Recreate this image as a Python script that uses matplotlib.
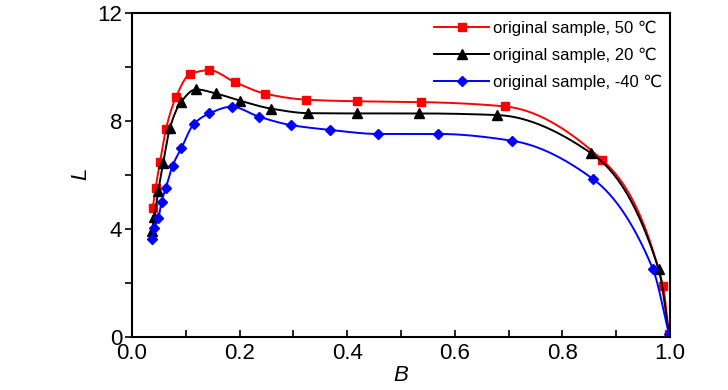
import numpy as np
import matplotlib
matplotlib.use("Agg")
import matplotlib.pyplot as plt
from matplotlib.ticker import MultipleLocator, FormatStrFormatter

plt.rcParams['font.family'] = ['Liberation Sans', 'DejaVu Sans']
plt.rcParams['mathtext.fontset'] = 'custom'
plt.rcParams['mathtext.it'] = 'Liberation Sans:italic'

# Data
b_50 = [0.0385, 0.044, 0.052, 0.063, 0.082, 0.108, 0.144, 0.191, 0.248, 0.323,
        0.418, 0.538, 0.693, 0.874, 0.987, 0.998]
l_50 = [4.77, 5.53, 6.48, 7.69, 8.90, 9.74, 9.88, 9.44, 9.01, 8.79,
        8.73, 8.70, 8.54, 6.56, 1.89, 0.12]

b_20 = [0.037, 0.0415, 0.049, 0.058, 0.0706, 0.091, 0.119, 0.156, 0.201, 0.258,
        0.328, 0.419, 0.533, 0.679, 0.854, 0.979, 0.998]
l_20 = [3.93, 4.46, 5.42, 6.46, 7.75, 8.70, 9.17, 9.02, 8.75, 8.46,
        8.29, 8.28, 8.28, 8.22, 6.80, 2.51, 0.12]

b_m40 = [0.037, 0.0415, 0.049, 0.055, 0.063, 0.0756, 0.0917, 0.115, 0.144, 0.185,
         0.236, 0.295, 0.368, 0.458, 0.569, 0.706, 0.857, 0.968, 0.998]
l_m40 = [3.62, 4.05, 4.40, 5.01, 5.53, 6.35, 6.99, 7.89, 8.28, 8.53,
         8.16, 7.85, 7.67, 7.52, 7.52, 7.27, 5.85, 2.53, 0.12]

labels = ['original sample, 50 \u2103', 'original sample, 20 \u2103',
          'original sample, -40 \u2103']
colors = ['#ff0000', '#000000', '#0000ff']
markers = ['s', '^', 'D']
msizes = [6, 6.5, 5.5]


def pchip_curve(x, y, n=60):
    """Smooth drawing path through the data points (shape-preserving Hermite)."""
    x = np.asarray(x, float)
    y = np.asarray(y, float)
    h = np.diff(x)
    d = np.diff(y) / h
    m = np.zeros_like(y)
    for k in range(1, len(x) - 1):
        if d[k - 1] * d[k] > 0:
            w1 = 2 * h[k] + h[k - 1]
            w2 = h[k] + 2 * h[k - 1]
            m[k] = (w1 + w2) / (w1 / d[k - 1] + w2 / d[k])
    m[0] = d[0]
    m[-1] = d[-1]
    xs, ys = [], []
    for k in range(len(x) - 1):
        t = np.linspace(0, 1, n, endpoint=(k == len(x) - 2))
        h00 = 2 * t**3 - 3 * t**2 + 1
        h10 = t**3 - 2 * t**2 + t
        h01 = -2 * t**3 + 3 * t**2
        h11 = t**3 - t**2
        xs.append(x[k] + t * h[k])
        ys.append(h00 * y[k] + h10 * h[k] * m[k] + h01 * y[k + 1] + h11 * h[k] * m[k + 1])
    return np.concatenate(xs), np.concatenate(ys)


fig = plt.figure(figsize=(7.28, 3.90), dpi=100)
ax = fig.add_axes([0.1813, 0.1359, 0.7390, 0.8308])

for bx, ly, c, mk, ms, lab in zip([b_50, b_20, b_m40], [l_50, l_20, l_m40],
                                  colors, markers, msizes, labels):
    xs, ys = pchip_curve(bx, ly)
    ax.plot(xs, ys, color=c, lw=1.4)
    ax.plot(bx, ly, linestyle='none', marker=mk, ms=ms, color=c)
    ax.plot([], [], color=c, lw=1.4, marker=mk, ms=ms, label=lab)

ax.set_xlim(0, 1.0)
ax.set_ylim(0, 12)
ax.xaxis.set_major_locator(MultipleLocator(0.2))
ax.xaxis.set_minor_locator(MultipleLocator(0.1))
ax.xaxis.set_major_formatter(FormatStrFormatter('%.1f'))
ax.yaxis.set_major_locator(MultipleLocator(4))
ax.yaxis.set_minor_locator(MultipleLocator(2))
ax.tick_params(axis='x', which='both', direction='in', length=5, width=1.2,
               labelsize=16, pad=4, top=False)
ax.tick_params(axis='y', which='both', direction='out', length=5, width=1.2,
               labelsize=16, pad=2, right=False)
for s in ax.spines.values():
    s.set_linewidth(1.5)

ax.set_xlabel('$B$', fontsize=16, labelpad=1)
ax.set_ylabel('$L$', fontsize=16, labelpad=4)

leg = ax.legend(loc='upper right', frameon=False, fontsize=12, handlelength=3.3,
                handletextpad=0.25, labelspacing=0.7, borderaxespad=0.05,
                bbox_to_anchor=(1.0, 1.0))

fig.savefig('out.png', dpi=100)
